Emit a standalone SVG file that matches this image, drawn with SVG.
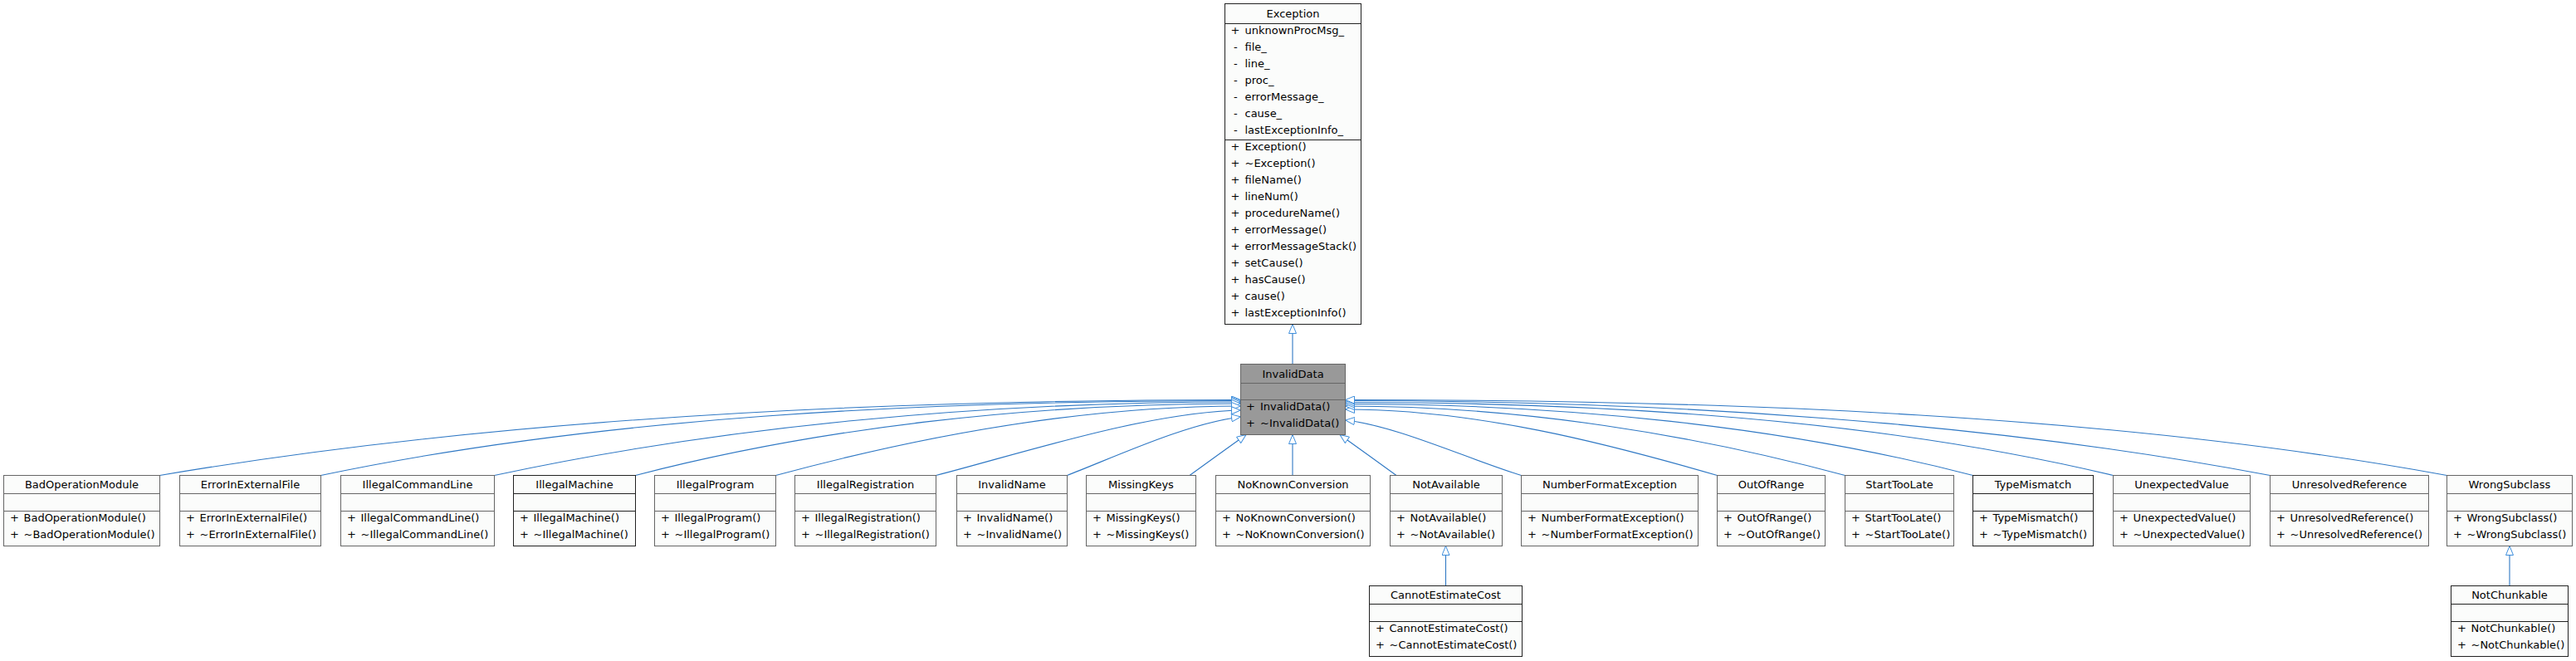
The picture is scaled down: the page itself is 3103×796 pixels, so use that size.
<svg xmlns="http://www.w3.org/2000/svg" width="3103" height="796" viewBox="0 0 3103 796">
<style>
text{font-family:"DejaVu Sans","Liberation Sans",sans-serif;font-size:13px;fill:#000}
.c{text-anchor:middle}
.box{fill:#fbfcfb;stroke:#666;stroke-width:1}
.dk{stroke:#222}
.sel{fill:#999;stroke:#666;stroke-width:1}
.dv{fill:none;stroke:#666;stroke-width:1}
.dvk{fill:none;stroke:#222;stroke-width:1}
#edges path{fill:none;stroke:#2f78c4;stroke-width:1.1;marker-end:url(#inh)}
</style>
<defs>
<marker id="inh" markerUnits="userSpaceOnUse" markerWidth="12" markerHeight="10" viewBox="0 0 12 10" refX="11.5" refY="5" orient="auto">
<path d="M0.5,0.5 L11.5,5 L0.5,9.5 Z" fill="#fff" stroke="#3f8fdc" stroke-width="1"/>
</marker>
</defs>
<g id="edges">
<path d="M1557,438.5 V390.5"/>
<path d="M192.5,572.5 C583.1,506.1 1038.8,481.5 1494.5,481.5"/>
<path d="M386.5,572.5 C718.9,502.7 1106.7,482.5 1494.5,482.5"/>
<path d="M595.5,572.5 C864.9,514.5 1179.7,484 1494.5,484"/>
<path d="M765.5,572.5 C984.2,515.6 1239.4,486 1494.5,486"/>
<path d="M934.5,572.5 C1102.5,527.1 1298.5,489 1494.5,489"/>
<path d="M1127.5,572.5 C1237.6,543.9 1380,497 1494.5,494"/>
<path d="M1285.5,572.5 C1348.2,548 1430,510 1494.5,502"/>
<path d="M1433,572.5 C1450,560 1485,535 1501,523.5"/>
<path d="M1557,572.5 V523.5"/>
<path d="M1682,572.5 C1665,560 1630,535 1614,523.5"/>
<path d="M1832.5,572.5 C1768.5,552.8 1680,512 1620.5,506"/>
<path d="M2068.5,572.5 C1934.1,533.5 1777.3,493 1620.5,493"/>
<path d="M2222.5,572.5 C2041.9,523.7 1831.2,489 1620.5,489"/>
<path d="M2376.5,572.5 C2149.7,513.5 1885.1,486.5 1620.5,486.5"/>
<path d="M2545.5,572.5 C2268,505.9 1944.3,484.5 1620.5,484.5"/>
<path d="M2734.5,572.5 C2400.3,509 2010.4,482.5 1620.5,482.5"/>
<path d="M2947.5,572.5 C2549.4,499.7 2085,481.5 1620.5,481.5"/>
<path d="M1741.5,705.5 V657.5"/>
<path d="M3023,705.5 V657.5"/>
</g>
<g id="Exception">
<rect class="box dk" x="1475.5" y="4.5" width="164" height="386"/>
<path class="dvk" d="M1475.5,28.5H1639.5M1475.5,168.5H1639.5"/>
<text class="c" x="1557.5" y="21">Exception</text>
<text x="1482.5" y="41">+</text><text x="1499.5" y="41">unknownProcMsg_</text>
<text x="1486" y="61">-</text><text x="1499.5" y="61">file_</text>
<text x="1486" y="81">-</text><text x="1499.5" y="81">line_</text>
<text x="1486" y="101">-</text><text x="1499.5" y="101">proc_</text>
<text x="1486" y="121">-</text><text x="1499.5" y="121">errorMessage_</text>
<text x="1486" y="141">-</text><text x="1499.5" y="141">cause_</text>
<text x="1486" y="161">-</text><text x="1499.5" y="161">lastExceptionInfo_</text>
<text x="1482.5" y="181">+</text><text x="1499.5" y="181">Exception()</text>
<text x="1482.5" y="201">+</text><text x="1499.5" y="201">~Exception()</text>
<text x="1482.5" y="221">+</text><text x="1499.5" y="221">fileName()</text>
<text x="1482.5" y="241">+</text><text x="1499.5" y="241">lineNum()</text>
<text x="1482.5" y="261">+</text><text x="1499.5" y="261">procedureName()</text>
<text x="1482.5" y="281">+</text><text x="1499.5" y="281">errorMessage()</text>
<text x="1482.5" y="301">+</text><text x="1499.5" y="301">errorMessageStack()</text>
<text x="1482.5" y="321">+</text><text x="1499.5" y="321">setCause()</text>
<text x="1482.5" y="341">+</text><text x="1499.5" y="341">hasCause()</text>
<text x="1482.5" y="361">+</text><text x="1499.5" y="361">cause()</text>
<text x="1482.5" y="381">+</text><text x="1499.5" y="381">lastExceptionInfo()</text>
</g>
<g id="InvalidData">
<rect class="sel" x="1494.5" y="438.5" width="126" height="85"/>
<path class="dv" d="M1494.5,461.5H1620.5M1494.5,481.5H1620.5"/>
<text class="c" x="1557.5" y="454.5">InvalidData</text>
<text x="1501" y="494">+</text><text x="1518" y="494">InvalidData()</text>
<text x="1501" y="514">+</text><text x="1518" y="514">~InvalidData()</text>
</g>
<g id="BadOperationModule">
<rect class="box" x="4.5" y="572.5" width="188" height="85"/>
<path class="dv" d="M4.5,594.5H192.5M4.5,615.5H192.5"/>
<text class="c" x="98.5" y="588">BadOperationModule</text>
<text x="12" y="627.5">+</text><text x="28.5" y="627.5">BadOperationModule()</text>
<text x="12" y="647.5">+</text><text x="28.5" y="647.5">~BadOperationModule()</text>
</g>
<g id="ErrorInExternalFile">
<rect class="box" x="216.5" y="572.5" width="170" height="85"/>
<path class="dv" d="M216.5,594.5H386.5M216.5,615.5H386.5"/>
<text class="c" x="301.5" y="588">ErrorInExternalFile</text>
<text x="224" y="627.5">+</text><text x="240.5" y="627.5">ErrorInExternalFile()</text>
<text x="224" y="647.5">+</text><text x="240.5" y="647.5">~ErrorInExternalFile()</text>
</g>
<g id="IllegalCommandLine">
<rect class="box" x="410.5" y="572.5" width="185" height="85"/>
<path class="dv" d="M410.5,594.5H595.5M410.5,615.5H595.5"/>
<text class="c" x="503" y="588">IllegalCommandLine</text>
<text x="418" y="627.5">+</text><text x="434.5" y="627.5">IllegalCommandLine()</text>
<text x="418" y="647.5">+</text><text x="434.5" y="647.5">~IllegalCommandLine()</text>
</g>
<g id="IllegalMachine">
<rect class="box dk" x="618.5" y="572.5" width="147" height="85"/>
<path class="dvk" d="M618.5,594.5H765.5M618.5,615.5H765.5"/>
<text class="c" x="692" y="588">IllegalMachine</text>
<text x="626" y="627.5">+</text><text x="642.5" y="627.5">IllegalMachine()</text>
<text x="626" y="647.5">+</text><text x="642.5" y="647.5">~IllegalMachine()</text>
</g>
<g id="IllegalProgram">
<rect class="box" x="788.5" y="572.5" width="146" height="85"/>
<path class="dv" d="M788.5,594.5H934.5M788.5,615.5H934.5"/>
<text class="c" x="861.5" y="588">IllegalProgram</text>
<text x="796" y="627.5">+</text><text x="812.5" y="627.5">IllegalProgram()</text>
<text x="796" y="647.5">+</text><text x="812.5" y="647.5">~IllegalProgram()</text>
</g>
<g id="IllegalRegistration">
<rect class="box" x="957.5" y="572.5" width="170" height="85"/>
<path class="dv" d="M957.5,594.5H1127.5M957.5,615.5H1127.5"/>
<text class="c" x="1042.5" y="588">IllegalRegistration</text>
<text x="965" y="627.5">+</text><text x="981.5" y="627.5">IllegalRegistration()</text>
<text x="965" y="647.5">+</text><text x="981.5" y="647.5">~IllegalRegistration()</text>
</g>
<g id="InvalidName">
<rect class="box" x="1152.5" y="572.5" width="133" height="85"/>
<path class="dv" d="M1152.5,594.5H1285.5M1152.5,615.5H1285.5"/>
<text class="c" x="1219" y="588">InvalidName</text>
<text x="1160" y="627.5">+</text><text x="1176.5" y="627.5">InvalidName()</text>
<text x="1160" y="647.5">+</text><text x="1176.5" y="647.5">~InvalidName()</text>
</g>
<g id="MissingKeys">
<rect class="box" x="1308.5" y="572.5" width="132" height="85"/>
<path class="dv" d="M1308.5,594.5H1440.5M1308.5,615.5H1440.5"/>
<text class="c" x="1374.5" y="588">MissingKeys</text>
<text x="1316" y="627.5">+</text><text x="1332.5" y="627.5">MissingKeys()</text>
<text x="1316" y="647.5">+</text><text x="1332.5" y="647.5">~MissingKeys()</text>
</g>
<g id="NoKnownConversion">
<rect class="box" x="1464.5" y="572.5" width="186" height="85"/>
<path class="dv" d="M1464.5,594.5H1650.5M1464.5,615.5H1650.5"/>
<text class="c" x="1557.5" y="588">NoKnownConversion</text>
<text x="1472" y="627.5">+</text><text x="1488.5" y="627.5">NoKnownConversion()</text>
<text x="1472" y="647.5">+</text><text x="1488.5" y="647.5">~NoKnownConversion()</text>
</g>
<g id="NotAvailable">
<rect class="box" x="1674.5" y="572.5" width="135" height="85"/>
<path class="dv" d="M1674.5,594.5H1809.5M1674.5,615.5H1809.5"/>
<text class="c" x="1742" y="588">NotAvailable</text>
<text x="1682" y="627.5">+</text><text x="1698.5" y="627.5">NotAvailable()</text>
<text x="1682" y="647.5">+</text><text x="1698.5" y="647.5">~NotAvailable()</text>
</g>
<g id="NumberFormatException">
<rect class="box" x="1832.5" y="572.5" width="213" height="85"/>
<path class="dv" d="M1832.5,594.5H2045.5M1832.5,615.5H2045.5"/>
<text class="c" x="1939" y="588">NumberFormatException</text>
<text x="1840" y="627.5">+</text><text x="1856.5" y="627.5">NumberFormatException()</text>
<text x="1840" y="647.5">+</text><text x="1856.5" y="647.5">~NumberFormatException()</text>
</g>
<g id="OutOfRange">
<rect class="box" x="2068.5" y="572.5" width="130" height="85"/>
<path class="dv" d="M2068.5,594.5H2198.5M2068.5,615.5H2198.5"/>
<text class="c" x="2133.5" y="588">OutOfRange</text>
<text x="2076" y="627.5">+</text><text x="2092.5" y="627.5">OutOfRange()</text>
<text x="2076" y="647.5">+</text><text x="2092.5" y="647.5">~OutOfRange()</text>
</g>
<g id="StartTooLate">
<rect class="box" x="2222.5" y="572.5" width="131" height="85"/>
<path class="dv" d="M2222.5,594.5H2353.5M2222.5,615.5H2353.5"/>
<text class="c" x="2288" y="588">StartTooLate</text>
<text x="2230" y="627.5">+</text><text x="2246.5" y="627.5">StartTooLate()</text>
<text x="2230" y="647.5">+</text><text x="2246.5" y="647.5">~StartTooLate()</text>
</g>
<g id="TypeMismatch">
<rect class="box dk" x="2376.5" y="572.5" width="145" height="85"/>
<path class="dvk" d="M2376.5,594.5H2521.5M2376.5,615.5H2521.5"/>
<text class="c" x="2449" y="588">TypeMismatch</text>
<text x="2384" y="627.5">+</text><text x="2400.5" y="627.5">TypeMismatch()</text>
<text x="2384" y="647.5">+</text><text x="2400.5" y="647.5">~TypeMismatch()</text>
</g>
<g id="UnexpectedValue">
<rect class="box" x="2545.5" y="572.5" width="165" height="85"/>
<path class="dv" d="M2545.5,594.5H2710.5M2545.5,615.5H2710.5"/>
<text class="c" x="2628" y="588">UnexpectedValue</text>
<text x="2553" y="627.5">+</text><text x="2569.5" y="627.5">UnexpectedValue()</text>
<text x="2553" y="647.5">+</text><text x="2569.5" y="647.5">~UnexpectedValue()</text>
</g>
<g id="UnresolvedReference">
<rect class="box" x="2734.5" y="572.5" width="191" height="85"/>
<path class="dv" d="M2734.5,594.5H2925.5M2734.5,615.5H2925.5"/>
<text class="c" x="2830" y="588">UnresolvedReference</text>
<text x="2742" y="627.5">+</text><text x="2758.5" y="627.5">UnresolvedReference()</text>
<text x="2742" y="647.5">+</text><text x="2758.5" y="647.5">~UnresolvedReference()</text>
</g>
<g id="WrongSubclass">
<rect class="box" x="2947.5" y="572.5" width="151" height="85"/>
<path class="dv" d="M2947.5,594.5H3098.5M2947.5,615.5H3098.5"/>
<text class="c" x="3023" y="588">WrongSubclass</text>
<text x="2955" y="627.5">+</text><text x="2971.5" y="627.5">WrongSubclass()</text>
<text x="2955" y="647.5">+</text><text x="2971.5" y="647.5">~WrongSubclass()</text>
</g>
<g id="CannotEstimateCost">
<rect class="box dk" x="1649.5" y="705.5" width="184" height="85"/>
<path class="dvk" d="M1649.5,727.5H1833.5M1649.5,748.5H1833.5"/>
<text class="c" x="1741.5" y="721">CannotEstimateCost</text>
<text x="1657" y="760.5">+</text><text x="1673.5" y="760.5">CannotEstimateCost()</text>
<text x="1657" y="780.5">+</text><text x="1673.5" y="780.5">~CannotEstimateCost()</text>
</g>
<g id="NotChunkable">
<rect class="box dk" x="2952.5" y="705.5" width="141" height="85"/>
<path class="dvk" d="M2952.5,727.5H3093.5M2952.5,748.5H3093.5"/>
<text class="c" x="3023" y="721">NotChunkable</text>
<text x="2960" y="760.5">+</text><text x="2976.5" y="760.5">NotChunkable()</text>
<text x="2960" y="780.5">+</text><text x="2976.5" y="780.5">~NotChunkable()</text>
</g>
</svg>
